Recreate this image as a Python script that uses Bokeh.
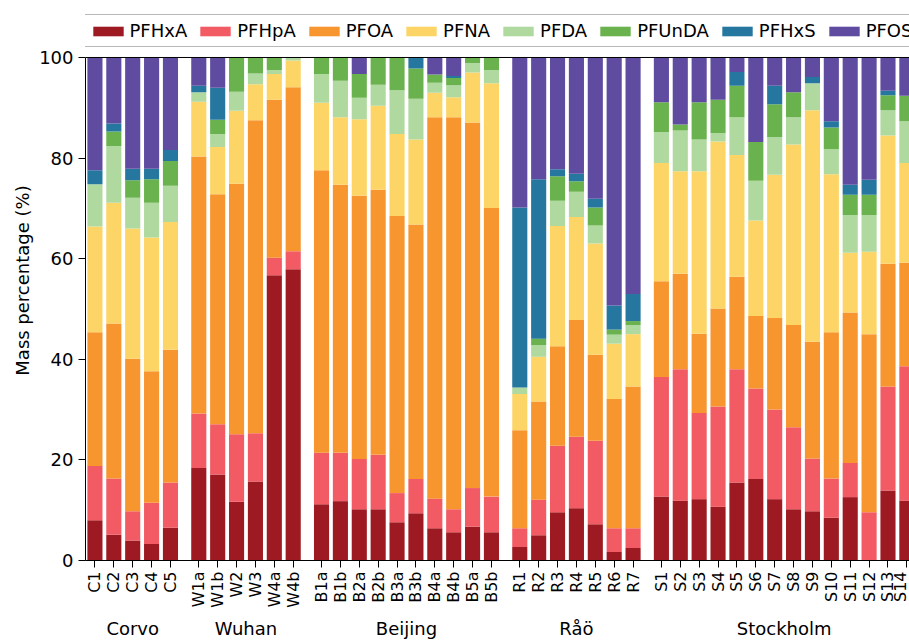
import math
from bokeh.plotting import figure
from bokeh.models import (ColumnDataSource, Range1d, FixedTicker, Legend, LegendItem, Span,
                          LinearAxis)
from bokeh.embed import file_html
from bokeh.resources import INLINE

groups = ["Corvo", "Wuhan", "Beijing", "Råö", "Stockholm"]
group_samples = [
    ["C1", "C2", "C3", "C4", "C5"],
    ["W1a", "W1b", "W2", "W3", "W4a", "W4b"],
    ["B1a", "B1b", "B2a", "B2b", "B3a", "B3b", "B4a", "B4b", "B5a", "B5b"],
    ["R1", "R2", "R3", "R4", "R5", "R6", "R7"],
    ["S1", "S2", "S3", "S4", "S5", "S6", "S7", "S8", "S9", "S10", "S11", "S12", "S13", "S14"],
]
compounds = ["PFHxA", "PFHpA", "PFOA", "PFNA", "PFDA", "PFUnDA", "PFHxS", "PFOS"]
colors = ["#9e1a22", "#f25a64", "#f7952f", "#fdd567", "#b0d9a0", "#6ab24e", "#26779f", "#5f4ba0"]

PFHxA = [8.0, 5.1, 4.0, 3.3, 6.5,
         18.4, 17.1, 11.7, 15.7, 56.7, 57.9,
         11.2, 11.8, 10.2, 10.2, 7.6, 9.4, 6.4, 5.6, 6.7, 5.6,
         2.7, 5.0, 9.6, 10.4, 7.2, 1.7, 2.5,
         12.7, 11.9, 12.2, 10.7, 15.5, 16.2, 12.2, 10.2, 9.8, 8.5, 12.6, 0.0, 13.9, 11.9]
PFHpA = [10.8, 11.2, 5.8, 8.2, 9.0,
         10.8, 10.0, 13.4, 9.6, 3.5, 3.6,
         10.2, 9.6, 10.0, 10.8, 5.8, 6.8, 5.9, 4.6, 7.7, 7.1,
         3.7, 7.1, 13.2, 14.2, 16.6, 4.7, 3.9,
         23.8, 26.1, 17.1, 19.9, 22.5, 18.0, 17.8, 16.3, 10.5, 7.8, 6.8, 9.6, 20.7, 26.7]
PFOA = [26.6, 30.8, 30.3, 26.1, 26.4,
        51.1, 45.7, 49.8, 62.2, 31.4, 32.6,
        56.2, 53.3, 52.3, 52.7, 55.1, 50.6, 75.8, 77.9, 72.7, 57.4,
        19.5, 19.5, 19.8, 23.2, 17.1, 25.7, 28.2,
        19.0, 19.0, 15.8, 19.5, 18.4, 14.4, 18.2, 20.3, 23.2, 29.1, 29.9, 35.4, 24.4, 20.6]
PFNA = [21.0, 24.0, 25.9, 26.6, 25.4,
        10.9, 9.4, 14.5, 7.2, 5.1, 5.3,
        13.4, 13.4, 15.2, 16.7, 16.3, 16.9, 4.9, 4.0, 9.9, 24.8,
        7.2, 8.9, 23.9, 20.5, 22.1, 11.0, 10.4,
        23.5, 20.4, 32.3, 33.2, 24.2, 19.0, 28.5, 35.9, 46.0, 31.4, 11.9, 16.4, 25.5, 19.8]
PFDA = [8.4, 11.3, 6.1, 6.9, 7.2,
        1.9, 2.6, 3.8, 2.1, 0.8, 0.6,
        5.7, 7.3, 4.3, 4.2, 8.7, 8.1, 2.0, 2.4, 1.9, 2.6,
        1.3, 2.3, 5.0, 5.0, 3.6, 1.8, 1.8,
        6.2, 8.1, 6.3, 1.7, 7.5, 7.9, 7.5, 5.4, 5.4, 5.0, 7.5, 7.3, 5.0, 8.3]
PFUnDA = [0.0, 2.9, 3.5, 4.7, 4.9,
          0.0, 2.8, 6.8, 3.2, 2.5, 0.0,
          3.3, 4.6, 4.7, 5.4, 6.5, 6.0, 1.6, 1.4, 1.1, 2.5,
          0.0, 1.3, 4.9, 2.1, 3.6, 1.0, 0.8,
          5.9, 1.2, 7.4, 6.6, 6.3, 7.7, 6.5, 5.0, 0.0, 4.3, 4.0, 4.0, 3.0, 5.1]
PFHxS = [2.8, 1.6, 2.3, 2.1, 2.2,
         1.3, 6.4, 0.0, 0.0, 0.0, 0.0,
         0.0, 0.0, 0.0, 0.0, 0.0, 2.2, 0.0, 0.4, 0.0, 0.0,
         35.8, 31.7, 1.4, 1.5, 1.7, 4.8, 5.4,
         0.0, 0.0, 0.0, 0.0, 2.7, 0.0, 3.7, 0.0, 1.2, 1.2, 2.0, 3.0, 0.9, 0.0]
PFOS = [22.4, 13.1, 22.1, 22.1, 18.4,
        5.6, 6.0, 0.0, 0.0, 0.0, 0.0,
        0.0, 0.0, 3.3, 0.0, 0.0, 0.0, 3.4, 3.7, 0.0, 0.0,
        29.8, 24.2, 22.2, 23.1, 28.1, 49.3, 47.0,
        8.9, 13.3, 8.9, 8.4, 2.9, 16.8, 5.6, 6.9, 3.9, 12.7, 25.3, 24.3, 6.6, 7.6]

y_ticks = [0, 20, 40, 60, 80, 100]

# positions: each sample 2 units apart, one extra unit between groups
xs, labels, centers = [], [], []
k = 0
for g, names in enumerate(group_samples):
    first = len(xs)
    for n in names:
        xs.append(2 * k + g)
        labels.append(n)
        k += 1
    centers.append((xs[first] + xs[-1]) // 2)

data = dict(x=xs, PFHxA=PFHxA, PFHpA=PFHpA, PFOA=PFOA, PFNA=PFNA, PFDA=PFDA,
            PFUnDA=PFUnDA, PFHxS=PFHxS, PFOS=PFOS)
src = ColumnDataSource(data)

FONT = "DejaVu Sans"

# frame runs to the top of the canvas so that the legend sits inside it
p = figure(width=909, height=641, x_range=Range1d(-1, 86.28), y_range=Range1d(0, 111.33),
           output_backend="svg", toolbar_location=None,
           min_border_left=85, min_border_right=0, min_border_top=0, min_border_bottom=81)
p.outline_line_color = None
p.grid.visible = False
p.background_fill_color = "white"
p.border_fill_color = "white"

renderers = p.vbar_stack(compounds, x="x", width=1.6, source=src,
                         fill_color=colors, line_color=None)

p.add_layout(Span(location=100, dimension="width", line_color="black", line_width=1))

# x axis (samples)
p.xaxis.ticker = FixedTicker(ticks=xs)
p.xaxis.major_label_overrides = {x: l for x, l in zip(xs, labels)}
p.xaxis.major_label_orientation = math.pi / 2
p.xaxis.major_label_text_font = FONT
p.xaxis.major_label_text_font_size = "16px"
p.xaxis.major_label_text_color = "black"
p.xaxis.major_tick_out = 7
p.xaxis.major_tick_in = 0
p.xaxis.minor_tick_out = 0
p.xaxis.minor_tick_in = 0
p.xaxis.major_label_standoff = 4
p.xaxis.axis_line_color = "black"
p.xaxis.major_tick_line_color = "black"

# group axis
gaxis = LinearAxis(ticker=FixedTicker(ticks=centers),
                   major_label_overrides={c: g for c, g in zip(centers, groups)},
                   axis_line_color=None, major_tick_line_color=None, minor_tick_line_color=None,
                   major_tick_out=0, major_tick_in=0, minor_tick_out=0, minor_tick_in=0,
                   major_label_standoff=7,
                   major_label_text_font=FONT, major_label_text_font_size="18px",
                   major_label_text_color="black")
p.add_layout(gaxis, "below")

# y axis
p.yaxis.ticker = FixedTicker(ticks=y_ticks)
p.yaxis.bounds = (0, 100)
p.yaxis.axis_label = "Mass percentage (%)"
p.yaxis.axis_label_text_font = FONT
p.yaxis.axis_label_text_font_size = "18px"
p.yaxis.axis_label_text_font_style = "normal"
p.yaxis.axis_label_text_color = "black"
p.yaxis.axis_label_standoff = 3
p.yaxis.major_label_text_font = FONT
p.yaxis.major_label_text_font_size = "18px"
p.yaxis.major_label_text_color = "black"
p.yaxis.major_tick_out = 7
p.yaxis.major_tick_in = 0
p.yaxis.minor_tick_out = 0
p.yaxis.minor_tick_in = 0
p.yaxis.major_label_standoff = 5
p.yaxis.axis_line_color = "black"
p.yaxis.major_tick_line_color = "black"

legend = Legend(items=[LegendItem(label=c, renderers=[r]) for c, r in zip(compounds, renderers)],
                orientation="horizontal", location=(-2.5, 513),
                glyph_width=38, glyph_height=12, label_standoff=3, spacing=9,
                padding=5, margin=0,
                label_text_font=FONT, label_text_font_size="18px", label_text_color="black",
                border_line_color="#b8b8b8", border_line_width=1.5, border_line_alpha=1.0,
                background_fill_color="white", background_fill_alpha=1.0)
p.add_layout(legend)

open("out.html", "w").write(file_html(p, INLINE))
